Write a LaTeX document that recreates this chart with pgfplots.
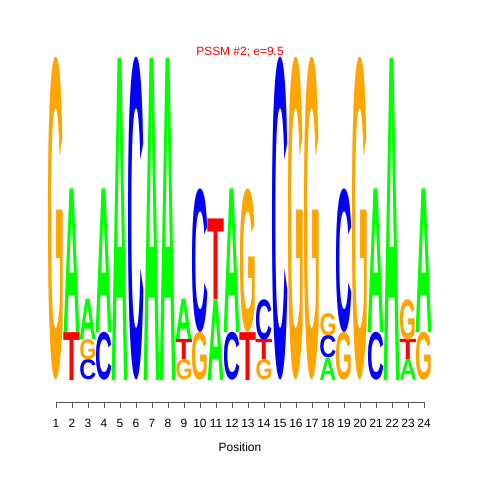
\documentclass[border=0pt]{standalone}
\usepackage{fontspec}
\setmainfont{Liberation Sans}
\usepackage{graphicx}
\usepackage{pgfplots}
\pgfplotsset{compat=1.18}
\definecolor{colA}{RGB}{0,255,0}
\definecolor{colC}{RGB}{0,0,255}
\definecolor{colG}{RGB}{255,165,0}
\definecolor{colT}{RGB}{255,0,0}
\newcommand\logoletter[2]{\pgfmathsetlengthmacro\lh{#2*161bp}\textcolor{col#1}{\resizebox*{17bp}{\lh}{\bfseries #1}}}
\begin{document}
\begin{tikzpicture}
\path[use as bounding box] (0,0) rectangle (480bp,480bp);
\begin{axis}[
  at={(48bp,78bp)}, anchor=south west,
  scale only axis, width=384bp, height=344bp,
  xmin=0.5, xmax=24.5, ymin=-0.13665, ymax=2,
  clip=false,
  axis y line=none, axis x line*=bottom,
  x axis line style={draw=none},
  xtick={1,...,24}, xtick align=outside,
  major tick length=6bp,
  every tick/.style={gray!70!black, line width=0.6bp},
  tick label style={font=\fontsize{12}{14}\selectfont, /pgf/number format/assume math mode=true},
  xticklabel style={inner sep=0pt, yshift=-11bp},
  xlabel={Position},
  xlabel style={at={(axis description cs:0.5,0)}, anchor=base, yshift=-49bp, font=\fontsize{12}{14}\selectfont},
  title={PSSM \#2; e=9.5},
  title style={at={(axis description cs:0.5,1)}, anchor=base, yshift=-3bp, text=red, font=\fontsize{12}{14}\selectfont},
]
\addplot[gray!70!black, line width=0.6bp] coordinates {(1,-0.13665) (24,-0.13665)};
\addplot[only marks, mark=none, point meta=explicit symbolic,
  visualization depends on={\thisrow{h} \as \hh},
  nodes near coords={\logoletter{\pgfplotspointmeta}{\hh}},
  nodes near coords align={center},
  every node near coord/.append style={anchor=south, inner sep=0pt, outer sep=0pt},
] table[x=x, y=y, meta=L] {
x y h L
1 0 2 G
2 0 0.2972 T
2 0.2972 0.8915 A
3 0 0.125 C
3 0.125 0.125 G
3 0.25 0.25 A
4 0 0.2972 C
4 0.2972 0.8915 A
5 0 2 A
6 0 2 C
7 0 2 A
8 0 2 A
9 0 0.125 G
9 0.125 0.125 T
9 0.25 0.25 A
10 0 0.2972 G
10 0.2972 0.8915 C
11 0 0.5 A
11 0.5 0.5 T
12 0 0.2972 C
12 0.2972 0.8915 A
13 0 0.2972 T
13 0.2972 0.8915 G
14 0 0.125 G
14 0.125 0.125 T
14 0.25 0.25 C
15 0 2 C
16 0 2 G
17 0 2 G
18 0 0.1383 A
18 0.1383 0.1383 C
18 0.2767 0.1383 G
19 0 0.2972 G
19 0.2972 0.8915 C
20 0 2 G
21 0 0.2972 C
21 0.2972 0.8915 A
22 0 2 A
23 0 0.125 A
23 0.125 0.125 T
23 0.25 0.25 G
24 0 0.2972 G
24 0.2972 0.8915 A
};
\end{axis}
\end{tikzpicture}
\end{document}
